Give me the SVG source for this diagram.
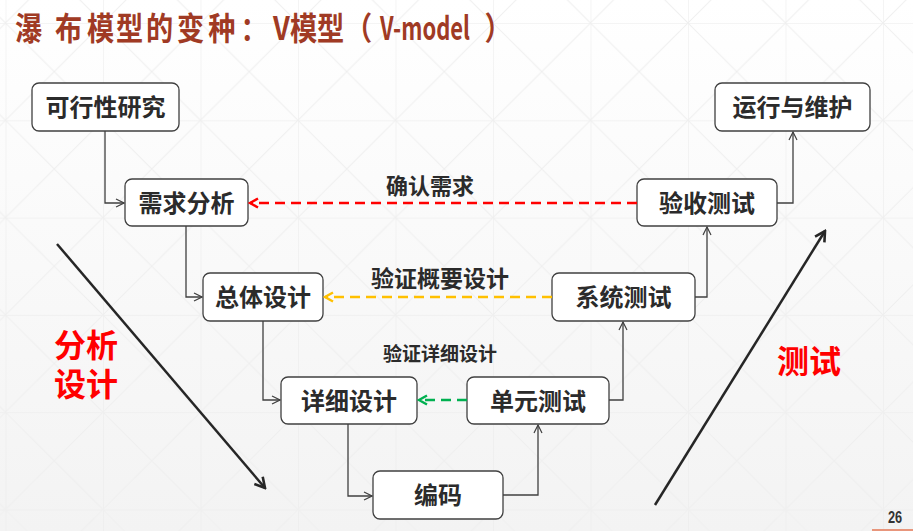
<svg xmlns="http://www.w3.org/2000/svg" width="913" height="531" viewBox="0 0 913 531">
  <defs>
    <linearGradient id="bg" x1="0" y1="0" x2="0" y2="1">
      <stop offset="0" stop-color="#ffffff"/>
      <stop offset="1" stop-color="#f3f3f3"/>
    </linearGradient>
    <pattern id="lattice" patternUnits="userSpaceOnUse" x="5.5" y="23" width="97.5" height="97.3">
      <path d="M0,0 V97.3 M0,0 H97.5" stroke="#e9e9e9" stroke-width="1" fill="none"/>
      <path d="M0,0 L97.5,97.3 M97.5,0 L0,97.3" stroke="#efefef" stroke-width="1" fill="none"/>
    </pattern>
    <marker id="tip" markerUnits="userSpaceOnUse" viewBox="0 0 10 10" refX="9" refY="5" markerWidth="10" markerHeight="10" orient="auto">
      <path d="M1,1 L9,5 L1,9" fill="none" stroke="#404040" stroke-width="1.2"/>
    </marker>
    <marker id="tipBig" markerUnits="userSpaceOnUse" viewBox="0 0 14 14" refX="12" refY="7" markerWidth="14" markerHeight="14" orient="auto">
      <path d="M2,1.5 L12,7 L2,12.5" fill="none" stroke="#262626" stroke-width="2.6"/>
    </marker>
    <marker id="tipRed" markerUnits="userSpaceOnUse" viewBox="0 0 12 12" refX="10" refY="6" markerWidth="12" markerHeight="12" orient="auto">
      <path d="M2,1.5 L10,6 L2,10.5" fill="none" stroke="#ff0000" stroke-width="2.4"/>
    </marker>
    <marker id="tipOrange" markerUnits="userSpaceOnUse" viewBox="0 0 12 12" refX="10" refY="6" markerWidth="12" markerHeight="12" orient="auto">
      <path d="M2,1.5 L10,6 L2,10.5" fill="none" stroke="#ffc000" stroke-width="2.4"/>
    </marker>
    <marker id="tipGreen" markerUnits="userSpaceOnUse" viewBox="0 0 12 12" refX="10" refY="6" markerWidth="12" markerHeight="12" orient="auto">
      <path d="M2,1.5 L10,6 L2,10.5" fill="none" stroke="#00b050" stroke-width="2.4"/>
    </marker>
  </defs>
  <style>
    .box { fill: #ffffff; stroke: #404040; stroke-width: 1.3; }
    .lbl { font-family: "Noto Sans CJK SC", "Noto Sans", sans-serif; font-weight: bold; font-size: 24px; fill: #2b2b2b; text-anchor: middle; }
    .link { fill: none; stroke: #404040; stroke-width: 1.3; marker-end: url(#tip); }
    .dash { fill: none; stroke-width: 2.4; stroke-dasharray: 10 6; }
    .note { font-family: "Noto Sans CJK SC", "Noto Sans", sans-serif; font-weight: bold; fill: #2b2b2b; text-anchor: middle; }
    .big { font-family: "Noto Sans CJK SC", "Noto Sans", sans-serif; font-weight: bold; font-size: 32px; fill: #ff0000; }
    .flow { fill: none; stroke: #262626; stroke-width: 2.5; marker-end: url(#tipBig); }
  </style>

  <!-- page background -->
  <rect width="913" height="531" fill="url(#bg)"/>
  <rect width="913" height="531" fill="url(#lattice)"/>

  <!-- heading: condensed by a horizontal scale, glyphs placed one by one -->
  <text transform="scale(0.85 1)" font-family="'Noto Sans CJK SC', 'Noto Sans', sans-serif" font-weight="bold" font-size="32" fill="#a03a24" y="40"><tspan x="17.6">瀑</tspan><tspan x="64.7">布</tspan><tspan x="102.4">模</tspan><tspan x="136.5">型</tspan><tspan x="171.8">的</tspan><tspan x="208.2">变</tspan><tspan x="245">种</tspan><tspan x="283">：</tspan><tspan x="321.2">V</tspan><tspan x="341.2">模</tspan><tspan x="372.9">型</tspan><tspan x="406">（</tspan><tspan x="447" textLength="106" lengthAdjust="spacingAndGlyphs">V-model</tspan><tspan x="570">）</tspan></text>

  <!-- nodes -->
  <g id="feasibility">
    <rect class="box" x="32" y="83" width="147" height="48" rx="7"/>
    <text class="lbl" x="105.5" y="116">可行性研究</text>
  </g>
  <g id="requirements">
    <rect class="box" x="125" y="179" width="123" height="47" rx="7"/>
    <text class="lbl" x="186.5" y="211.5">需求分析</text>
  </g>
  <g id="arch-design">
    <rect class="box" x="203" y="273" width="120" height="48" rx="7"/>
    <text class="lbl" x="263" y="306">总体设计</text>
  </g>
  <g id="detail-design">
    <rect class="box" x="281" y="377" width="136" height="47" rx="7"/>
    <text class="lbl" x="349" y="409.5">详细设计</text>
  </g>
  <g id="coding">
    <rect class="box" x="373" y="471" width="130" height="48" rx="7"/>
    <text class="lbl" x="438" y="504">编码</text>
  </g>
  <g id="unit-test">
    <rect class="box" x="467" y="377" width="142" height="47" rx="7"/>
    <text class="lbl" x="538" y="409.5">单元测试</text>
  </g>
  <g id="system-test">
    <rect class="box" x="552" y="273" width="143" height="48" rx="7"/>
    <text class="lbl" x="623.5" y="306">系统测试</text>
  </g>
  <g id="acceptance-test">
    <rect class="box" x="637" y="179" width="140" height="47" rx="7"/>
    <text class="lbl" x="707" y="211.5">验收测试</text>
  </g>
  <g id="operation">
    <rect class="box" x="715" y="83" width="155" height="48" rx="7"/>
    <text class="lbl" x="792.5" y="116">运行与维护</text>
  </g>

  <!-- connectors -->
  <g id="connectors">
    <path class="link" d="M105,131 V203 H124"/>
    <path class="link" d="M186,226 V297 H202"/>
    <path class="link" d="M263,321 V400 H280"/>
    <path class="link" d="M348,424 V496 H372"/>
    <path class="link" d="M503,495 H538 V425"/>
    <path class="link" d="M609,400 H623 V322"/>
    <path class="link" d="M695,297 H707 V227"/>
    <path class="link" d="M777,203 H793 V132"/>

    <path class="dash" d="M637,203 H250" stroke="#ff0000" marker-end="url(#tipRed)"/>
    <path class="dash" d="M552,297 H325" stroke="#ffc000" marker-end="url(#tipOrange)"/>
    <path class="dash" d="M467,400 H419" stroke="#00b050" marker-end="url(#tipGreen)"/>

    <path class="flow" d="M57,244 L265,488"/>
    <path class="flow" d="M655,505 L825,231"/>
  </g>

  <!-- verification labels -->
  <text class="note" font-size="22" x="430" y="194">确认需求</text>
  <text class="note" font-size="23" x="440" y="287">验证概要设计</text>
  <text class="note" font-size="19" x="440" y="361">验证详细设计</text>

  <!-- phase labels -->
  <text class="big"><tspan x="54" y="357">分析</tspan><tspan x="54" y="396">设计</tspan></text>
  <text class="big" x="777" y="373">测试</text>

  <!-- page number -->
  <text x="888" y="523" font-family="'Liberation Sans', sans-serif" font-weight="bold" font-size="16" fill="#333333" transform="translate(888 0) scale(0.8 1) translate(-888 0)">26</text>
  <rect x="872" y="529" width="41" height="2" fill="#e8967c"/>
</svg>
